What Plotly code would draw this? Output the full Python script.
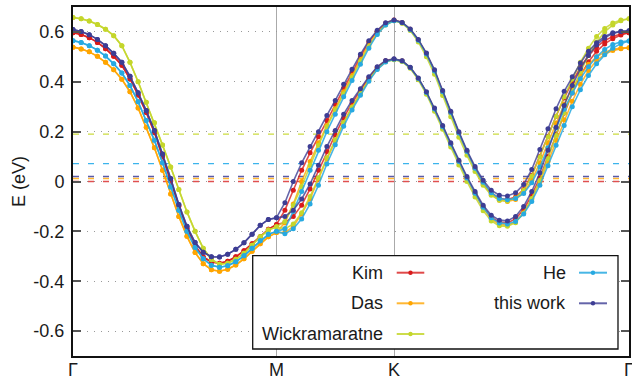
import numpy as np
import plotly.graph_objects as go

# ---- k-path Γ–M–K–Γ (cumulative path length) ----
path_nodes = [0.0, 0.866, 1.366, 2.366]
path_labels = ["Γ", "M", "K", "Γ"]
n_gm, n_mk, n_kg = 26, 14, 29
k_gm = np.linspace(path_nodes[0], path_nodes[1], n_gm)
k_mk = np.linspace(path_nodes[1], path_nodes[2], n_mk + 1)[1:]
k_kg = np.linspace(path_nodes[2], path_nodes[3], n_kg + 1)[1:]
k_all = np.concatenate([k_gm, k_mk, k_kg])

series_names = ["Kim", "Das", "Wickramaratne", "He", "this work"]

# ---- band energies (eV) ----
# Γ–M (both bands degenerate)
gm_kim = [0.597, 0.590, 0.577, 0.558, 0.533, 0.502, 0.466, 0.412, 0.347, 0.277, 0.197, 0.102, 0.002,
          -0.098, -0.188, -0.258, -0.303, -0.323, -0.328, -0.320, -0.302, -0.278, -0.250, -0.222, -0.192, -0.172]
gm_das = [0.539, 0.532, 0.520, 0.502, 0.478, 0.448, 0.410, 0.360, 0.295, 0.218, 0.135, 0.045, -0.050,
          -0.140, -0.220, -0.285, -0.330, -0.354, -0.360, -0.352, -0.335, -0.310, -0.280, -0.250, -0.222, -0.205]
gm_wick = [0.658, 0.653, 0.644, 0.630, 0.611, 0.585, 0.545, 0.478, 0.400, 0.318, 0.236, 0.146, 0.058,
           -0.032, -0.122, -0.200, -0.268, -0.313, -0.332, -0.328, -0.312, -0.288, -0.256, -0.222, -0.195, -0.182]
gm_he = [0.565, 0.558, 0.545, 0.527, 0.503, 0.472, 0.435, 0.385, 0.320, 0.245, 0.165, 0.075, -0.022,
         -0.115, -0.200, -0.265, -0.310, -0.336, -0.344, -0.338, -0.322, -0.298, -0.268, -0.238, -0.212, -0.200]
gm_this = [0.610, 0.602, 0.589, 0.570, 0.545, 0.514, 0.478, 0.422, 0.356, 0.285, 0.205, 0.110, 0.012,
           -0.092, -0.180, -0.245, -0.284, -0.302, -0.303, -0.292, -0.272, -0.246, -0.212, -0.176, -0.152, -0.145]

# M–K, upper band
mk_up_kim = [-0.115, -0.035, 0.045, 0.115, 0.180, 0.245, 0.310, 0.375, 0.440, 0.500, 0.560, 0.603, 0.635, 0.648]
mk_up_das = [-0.165, -0.090, 0.000, 0.080, 0.155, 0.225, 0.292, 0.360, 0.425, 0.490, 0.550, 0.598, 0.632, 0.646]
mk_up_wick = [-0.160, -0.095, -0.020, 0.065, 0.145, 0.220, 0.287, 0.352, 0.417, 0.482, 0.542, 0.592, 0.628, 0.645]
mk_up_he = [-0.190, -0.120, -0.040, 0.045, 0.125, 0.200, 0.270, 0.340, 0.405, 0.470, 0.535, 0.590, 0.628, 0.645]
mk_up_this = [-0.085, 0.000, 0.075, 0.140, 0.200, 0.265, 0.325, 0.390, 0.450, 0.510, 0.565, 0.607, 0.637, 0.648]

# M–K, lower band
mk_lo_kim = [-0.165, -0.140, -0.095, -0.030, 0.045, 0.120, 0.188, 0.255, 0.315, 0.366, 0.416, 0.458, 0.484, 0.490]
mk_lo_das = [-0.205, -0.180, -0.130, -0.070, 0.010, 0.090, 0.162, 0.235, 0.300, 0.356, 0.410, 0.455, 0.482, 0.490]
mk_lo_wick = [-0.190, -0.170, -0.125, -0.060, 0.015, 0.095, 0.167, 0.237, 0.297, 0.352, 0.406, 0.451, 0.480, 0.488]
mk_lo_he = [-0.210, -0.190, -0.150, -0.090, -0.015, 0.070, 0.147, 0.222, 0.287, 0.346, 0.402, 0.449, 0.479, 0.490]
mk_lo_this = [-0.140, -0.115, -0.070, -0.010, 0.065, 0.140, 0.205, 0.270, 0.325, 0.372, 0.420, 0.460, 0.485, 0.492]

# K–Γ, upper band
kg_up_kim = [0.638, 0.611, 0.568, 0.512, 0.444, 0.360, 0.277, 0.195, 0.120, 0.053, -0.005, -0.045, -0.068, -0.072,
             -0.062, -0.032, 0.025, 0.100, 0.182, 0.262, 0.335, 0.400, 0.458, 0.505, 0.540, 0.565, 0.582, 0.592, 0.597]
kg_up_das = [0.636, 0.609, 0.566, 0.510, 0.442, 0.358, 0.275, 0.193, 0.118, 0.050, -0.010, -0.052, -0.075, -0.080,
             -0.072, -0.045, 0.005, 0.075, 0.155, 0.235, 0.310, 0.375, 0.428, 0.470, 0.500, 0.519, 0.530, 0.535, 0.537]
kg_up_wick = [0.635, 0.606, 0.560, 0.500, 0.430, 0.345, 0.260, 0.178, 0.105, 0.040, -0.015, -0.055, -0.075, -0.078,
              -0.066, -0.035, 0.022, 0.098, 0.180, 0.262, 0.340, 0.410, 0.478, 0.535, 0.582, 0.614, 0.636, 0.648, 0.653]
kg_up_he = [0.637, 0.610, 0.567, 0.511, 0.443, 0.360, 0.277, 0.195, 0.120, 0.053, -0.003, -0.045, -0.068, -0.073,
            -0.068, -0.048, -0.005, 0.058, 0.135, 0.215, 0.290, 0.355, 0.412, 0.460, 0.500, 0.530, 0.550, 0.560, 0.564]
kg_up_this = [0.638, 0.612, 0.570, 0.515, 0.448, 0.365, 0.282, 0.200, 0.125, 0.060, 0.005, -0.035, -0.055, -0.058,
              -0.045, -0.012, 0.048, 0.128, 0.212, 0.292, 0.362, 0.420, 0.475, 0.522, 0.557, 0.582, 0.597, 0.603, 0.605]

# K–Γ, lower band
kg_lo_kim = [0.484, 0.457, 0.413, 0.357, 0.291, 0.220, 0.150, 0.080, 0.014, -0.047, -0.102, -0.143, -0.163, -0.166,
             -0.150, -0.112, -0.055, 0.015, 0.100, 0.190, 0.275, 0.355, 0.425, 0.480, 0.522, 0.552, 0.573, 0.588, 0.597]
kg_lo_das = [0.482, 0.456, 0.412, 0.356, 0.290, 0.219, 0.149, 0.079, 0.012, -0.050, -0.107, -0.150, -0.172, -0.176,
             -0.162, -0.125, -0.070, -0.002, 0.080, 0.165, 0.248, 0.322, 0.390, 0.445, 0.485, 0.510, 0.525, 0.533, 0.537]
kg_lo_wick = [0.481, 0.454, 0.408, 0.350, 0.282, 0.210, 0.138, 0.066, 0.000, -0.062, -0.117, -0.158, -0.178, -0.180,
              -0.165, -0.127, -0.068, 0.005, 0.092, 0.185, 0.275, 0.360, 0.440, 0.505, 0.560, 0.600, 0.628, 0.645, 0.653]
kg_lo_he = [0.483, 0.457, 0.413, 0.357, 0.291, 0.220, 0.150, 0.080, 0.014, -0.047, -0.103, -0.145, -0.166, -0.170,
            -0.160, -0.130, -0.080, -0.015, 0.063, 0.145, 0.225, 0.300, 0.368, 0.425, 0.472, 0.508, 0.535, 0.553, 0.564]
kg_lo_this = [0.484, 0.458, 0.415, 0.360, 0.295, 0.225, 0.155, 0.085, 0.020, -0.040, -0.095, -0.135, -0.155, -0.158,
              -0.140, -0.100, -0.040, 0.035, 0.125, 0.218, 0.305, 0.385, 0.452, 0.505, 0.548, 0.576, 0.594, 0.602, 0.605]

# Fermi levels (eV)
fermi_levels = [0.0, 0.012, 0.19, 0.072, 0.02]

colors = ["#d81b1b", "#ffa500", "#c4d62b", "#27a9e1", "#3d3d94"]
line_colors = ["rgba(216,27,27,0.8)", "rgba(255,165,0,0.8)", "rgba(196,214,43,0.85)",
               "rgba(39,169,225,0.85)", "rgba(61,61,148,0.8)"]
dash_colors = ["#e05050", "#ffb733", "#cbdc40", "#3cb4ec", "#5a5aa8"]

gm_all = [gm_kim, gm_das, gm_wick, gm_he, gm_this]
mk_up_all = [mk_up_kim, mk_up_das, mk_up_wick, mk_up_he, mk_up_this]
mk_lo_all = [mk_lo_kim, mk_lo_das, mk_lo_wick, mk_lo_he, mk_lo_this]
kg_up_all = [kg_up_kim, kg_up_das, kg_up_wick, kg_up_he, kg_up_this]
kg_lo_all = [kg_lo_kim, kg_lo_das, kg_lo_wick, kg_lo_he, kg_lo_this]

FONT = "Liberation Sans, Arial, sans-serif"
fig = go.Figure()

# Fermi levels
for ef, dc in zip(fermi_levels, dash_colors):
    fig.add_trace(go.Scatter(x=[path_nodes[0], path_nodes[-1]], y=[ef, ef], mode="lines",
                             line=dict(color=dc, width=1.3, dash="6px,9px"),
                             showlegend=False, hoverinfo="skip"))

# bands
for i, name in enumerate(series_names):
    for mk, kg in ((mk_lo_all[i], kg_lo_all[i]), (mk_up_all[i], kg_up_all[i])):
        e = np.concatenate([gm_all[i], mk, kg])
        fig.add_trace(go.Scatter(x=k_all, y=e, mode="lines+markers", name=name,
                                 line=dict(color=line_colors[i], width=1.6),
                                 marker=dict(color=colors[i], size=5),
                                 showlegend=False))

# legend box (drawn as shapes and text, gnuplot style: label then sample)
shapes = [dict(type="rect", xref="paper", yref="paper", x0=0.3232, x1=0.9802, y0=0.0201, y1=0.2874,
               line=dict(color="#111", width=1.3), fillcolor="white", layer="above")]
annotations = []
leg_rows = [0.2387, 0.1510, 0.0630]
leg_pos = [(0, 0), (0, 1), (0, 2), (1, 0), (1, 1)]
col_text_x = [0.5612, 0.8908]
col_line = [(0.5822, 0.6318), (0.9101, 0.9604)]
for i, name in enumerate(series_names):
    c, r = leg_pos[i]
    y = leg_rows[r]
    annotations.append(dict(xref="paper", yref="paper", x=col_text_x[c], y=y, text=name,
                            showarrow=False, xanchor="right", yanchor="middle",
                            font=dict(family=FONT, size=18, color="#1a1a1a")))
    x0, x1 = col_line[c]
    shapes.append(dict(type="line", xref="paper", yref="paper", x0=x0, x1=x1, y0=y, y1=y,
                       line=dict(color=line_colors[i], width=2), layer="above"))
    xm = (x0 + x1) / 2
    shapes.append(dict(type="circle", xref="paper", yref="paper", xsizemode="pixel", ysizemode="pixel",
                       xanchor=xm, yanchor=y, x0=-2.2, x1=2.2, y0=-2.2, y1=2.2,
                       fillcolor=colors[i], line=dict(width=0), layer="above"))

# high-symmetry point labels under the k axis
for kx, lab in zip(path_nodes, path_labels):
    annotations.append(dict(xref="x", yref="paper", x=kx, y=0, text=lab, showarrow=False,
                            xanchor="center", yanchor="top", yshift=-2,
                            font=dict(family=FONT, size=18, color="#1a1a1a")))

ytick_vals = [-0.6, -0.4, -0.2, 0.0, 0.2, 0.4, 0.6]
ytick_text = ["-0.6", "-0.4", "-0.2", "0", "0.2", "0.4", "0.6"]

fig.update_layout(
    width=632, height=377,
    margin=dict(l=73, r=3, t=7, b=21),
    paper_bgcolor="white", plot_bgcolor="white",
    template="none",
    showlegend=False,
    shapes=shapes, annotations=annotations,
    font=dict(family=FONT, size=18, color="#1a1a1a"),
    xaxis=dict(range=[path_nodes[0], path_nodes[-1]], tickvals=path_nodes, showticklabels=False,
               showgrid=True, gridcolor="#aaaaaa", gridwidth=1, zeroline=False,
               showline=True, linecolor="#111", linewidth=2, mirror=True, ticks="",
               automargin=False),
    yaxis=dict(range=[-0.7, 0.7], tickvals=ytick_vals, ticktext=ytick_text,
               showgrid=True, gridcolor="#999999", gridwidth=1, griddash="1px,6px", zeroline=False,
               showline=True, linecolor="#111", linewidth=2, mirror="ticks",
               ticks="inside", ticklen=8, tickwidth=2, tickcolor="#555",
               ticklabelstandoff=3,
               tickfont=dict(family=FONT, size=18), automargin=False,
               title=dict(text="E (eV)", font=dict(family=FONT, size=18), standoff=3)),
)

fig.write_html("out.html")
